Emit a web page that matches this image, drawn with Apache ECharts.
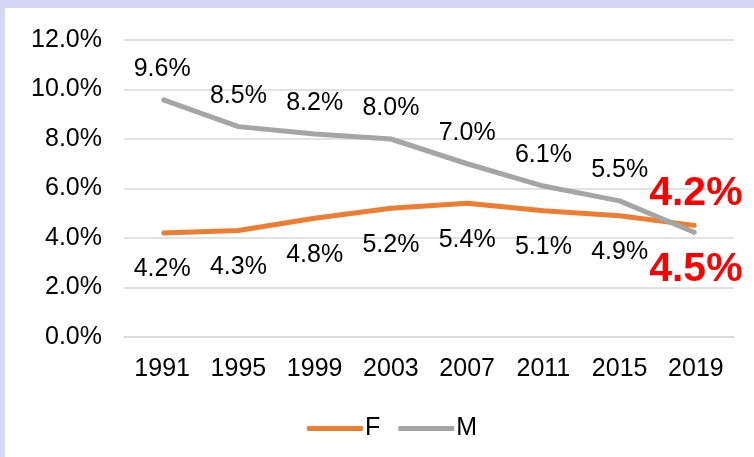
<!DOCTYPE html>
<html><head><meta charset="utf-8">
<script src="https://cdn.jsdelivr.net/npm/echarts@6/dist/echarts.min.js"></script>
<style>
html,body{margin:0;padding:0;}
#wrap{position:relative;width:754px;height:457px;background:#D6D7F4;overflow:hidden;}
#chart{position:absolute;left:5px;top:8px;width:749px;height:449px;background:#fff;}
</style></head>
<body><div id="wrap"><div id="chart"></div></div>
<script>
var categories = ['1991','1995','1999','2003','2007','2011','2015','2019'];
var femaleValues = [4.2, 4.3, 4.8, 5.2, 5.4, 5.1, 4.9, 4.5];
var maleValues = [9.6, 8.5, 8.2, 8.0, 7.0, 6.1, 5.5, 4.2];
var seriesNames = ['F', 'M'];

var font = 'Liberation Sans, Arial, sans-serif';
function pct(v){ return v.toFixed(1) + '%'; }
var bigLabel = { fontSize: 41, fontWeight: 'bold', color: '#FF0000', fontFamily: font };

function buildData(vals, lastPos, lastDist){
  return vals.map(function(v, i){
    if (i === vals.length - 1) {
      return { value: v, label: Object.assign({ show: true, position: lastPos, distance: lastDist, formatter: function(p){ return pct(p.value); } }, bigLabel) };
    }
    return v;
  });
}

var chart = echarts.init(document.getElementById('chart'));
chart.setOption({
  animation: false,
  grid: { left: 119, right: 20, top: 32, bottom: 120 },
  legend: {
    data: seriesNames,
    left: 297, top: 403,
    itemWidth: 56, itemHeight: 5, itemGap: 18,
    icon: 'roundRect',
    textStyle: { fontSize: 25, color: '#000', fontFamily: font, padding: [0,0,0,-3] }
  },
  xAxis: {
    type: 'category', data: categories, boundaryGap: true,
    axisLine: { show: true, lineStyle: { color: '#D9D9D9', width: 1.5 } },
    axisTick: { show: false },
    axisLabel: { fontSize: 25, color: '#000', fontFamily: font, margin: 20 }
  },
  yAxis: {
    type: 'value', min: 0, max: 12, interval: 2,
    axisLine: { show: false }, axisTick: { show: false },
    axisLabel: { fontSize: 25, color: '#000', fontFamily: font, margin: 22, formatter: pct },
    splitLine: { lineStyle: { color: '#D9D9D9', width: 1.5 } }
  },
  series: [
    {
      name: 'F', type: 'line', data: buildData(femaleValues, 'bottom', 23),
      symbol: 'circle', symbolSize: 2, showSymbol: true,
      lineStyle: { color: '#ED7D31', width: 5 }, itemStyle: { color: '#ED7D31' },
      label: { show: true, position: 'bottom', distance: 23, fontSize: 25, color: '#000', fontFamily: font, formatter: function(p){ return pct(p.value); } }
    },
    {
      name: 'M', type: 'line', data: buildData(maleValues, 'top', 18),
      symbol: 'circle', symbolSize: 2, showSymbol: true,
      lineStyle: { color: '#A5A5A5', width: 5 }, itemStyle: { color: '#A5A5A5' },
      label: { show: true, position: 'top', distance: 17, fontSize: 25, color: '#000', fontFamily: font, formatter: function(p){ return pct(p.value); } }
    }
  ]
});
</script></body></html>
